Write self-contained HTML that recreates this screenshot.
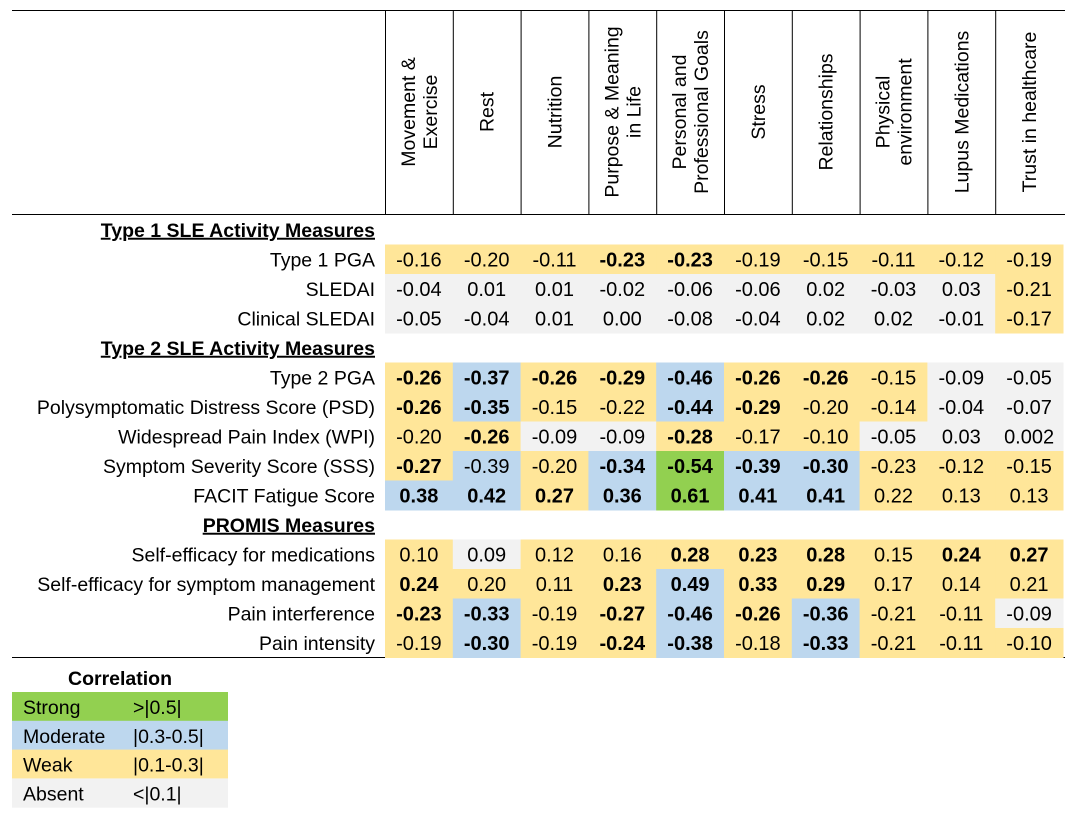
<!DOCTYPE html>
<html><head><meta charset="utf-8"><style>
body{margin:0;background:#fff;width:1078px;height:815px;overflow:hidden}
svg{display:block;font-family:"Liberation Sans",Arial,sans-serif}
</style></head><body>
<svg id="chart" width="1078" height="815"></svg>
<script>
const columns=[["Movement &","Exercise"],["Rest"],["Nutrition"],["Purpose & Meaning","in Life"],["Personal and","Professional Goals"],["Stress"],["Relationships"],["Physical","environment"],["Lupus Medications"],["Trust in healthcare"]];
const rowLabels=["Type 1 SLE Activity Measures","Type 1 PGA","SLEDAI","Clinical SLEDAI","Type 2 SLE Activity Measures","Type 2 PGA","Polysymptomatic Distress Score (PSD)","Widespread Pain Index (WPI)","Symptom Severity Score (SSS)","FACIT Fatigue Score","PROMIS Measures","Self-efficacy for medications","Self-efficacy for symptom management","Pain interference","Pain intensity"];
const values=[null,
["-0.16","-0.20","-0.11","-0.23","-0.23","-0.19","-0.15","-0.11","-0.12","-0.19"],
["-0.04","0.01","0.01","-0.02","-0.06","-0.06","0.02","-0.03","0.03","-0.21"],
["-0.05","-0.04","0.01","0.00","-0.08","-0.04","0.02","0.02","-0.01","-0.17"],
null,
["-0.26","-0.37","-0.26","-0.29","-0.46","-0.26","-0.26","-0.15","-0.09","-0.05"],
["-0.26","-0.35","-0.15","-0.22","-0.44","-0.29","-0.20","-0.14","-0.04","-0.07"],
["-0.20","-0.26","-0.09","-0.09","-0.28","-0.17","-0.10","-0.05","0.03","0.002"],
["-0.27","-0.39","-0.20","-0.34","-0.54","-0.39","-0.30","-0.23","-0.12","-0.15"],
["0.38","0.42","0.27","0.36","0.61","0.41","0.41","0.22","0.13","0.13"],
null,
["0.10","0.09","0.12","0.16","0.28","0.23","0.28","0.15","0.24","0.27"],
["0.24","0.20","0.11","0.23","0.49","0.33","0.29","0.17","0.14","0.21"],
["-0.23","-0.33","-0.19","-0.27","-0.46","-0.26","-0.36","-0.21","-0.11","-0.09"],
["-0.19","-0.30","-0.19","-0.24","-0.38","-0.18","-0.33","-0.21","-0.11","-0.10"]];
const categories=[null,"YYYYYYYYYY","AAAAAAAAAY","AAAAAAAAAY",null,"YBYYBYYYAA","YBYYBYYYAA","YYAAYYYAAA","YBYBGBBYYY","BBYBGBBYYY",null,"YAYYYYYYYY","YYYYBYYYYY","YBYYBYBYYA","YBYYBYBYYY"];
const boldFlags=[null,"0001100000","0000000000","0000000000",null,"1111111000","1100110000","0100100000","1001111000","1111111000",null,"0000111011","1001111000","1101111000","0101101000"];
const legendLabels=["Strong","Moderate","Weak","Absent"];
const legendRanges=[">|0.5|","|0.3-0.5|","|0.1-0.3|","<|0.1|"];
const legendCats=["G","B","Y","A"];

const fills={Y:"#FFE699",B:"#BDD7EE",G:"#92D050",A:"#F2F2F2"};
const NS="http://www.w3.org/2000/svg";
const svg=document.getElementById("chart");
function mk(t,a,p){const e=document.createElementNS(NS,t);for(const k in a)e.setAttribute(k,a[k]);(p||svg).appendChild(e);return e;}
const x0=385,cw=67.8,y0=215,rh=29.5,fs=19.5,nfs=20;
const colX=i=>x0+i*cw;
const rowY=i=>y0+i*rh;
let l=mk("line",{x1:12,y1:10.5,x2:1065,y2:10.5,stroke:"#000","stroke-width":1});


l=mk("line",{x1:12,y1:214.5,x2:1065,y2:214.5,stroke:"#000","stroke-width":1});


l=mk("line",{x1:12,y1:657.5,x2:1065,y2:657.5,stroke:"#000","stroke-width":1});


for(let i=0;i<columns.length;i++){
  const v=mk("line",{x1:colX(i)+0.5,y1:10,x2:colX(i)+0.5,y2:215,stroke:"#000","stroke-width":1});
  
  
  const cx=colX(i)+cw/2,cy=112;
  const t=mk("text",{transform:`translate(${cx},${cy}) rotate(-90)`,"text-anchor":"middle","font-size":fs,fill:"#000"});
  
  
  const lines=columns[i],n=lines.length;
  lines.forEach((s,k)=>{const ts=mk("tspan",{x:0,y:(k-(n-1)/2)*22+7},t);ts.textContent=s;});
}
for(let r=0;r<rowLabels.length;r++){
  const cy=rowY(r)+rh/2;
  const sec=values[r]===null;
  const t=mk("text",{x:375,y:cy+7,"text-anchor":"end","font-size":fs,fill:"#000","font-weight":sec?"bold":"normal","text-decoration":sec?"underline":"none"});
  
  
  t.textContent=rowLabels[r];
  if(sec)continue;
  for(let c=0;c<10;c++){
    const rc=mk("rect",{x:colX(c),y:rowY(r),width:cw+0.5,height:rh+0.5,fill:fills[categories[r][c]]});
    
    
    const tv=mk("text",{x:colX(c)+cw/2,y:cy+7,"text-anchor":"middle","font-size":nfs,fill:"#000","font-weight":boldFlags[r][c]==="1"?"bold":"normal"});
    
    
    tv.textContent=values[r][c];
  }
}
const lt=mk("text",{x:120,y:685,"text-anchor":"middle","font-size":fs,"font-weight":"bold",fill:"#000"});


lt.textContent="Correlation";
for(let i=0;i<4;i++){
  const y=692+i*28.8;
  const g=mk("g",{});
  
  
  mk("rect",{x:12,y:y,width:216,height:29.3,fill:fills[legendCats[i]]},g);
  const a=mk("text",{x:23,y:y+22,"font-size":fs,fill:"#000"},g);a.textContent=legendLabels[i];
  const b=mk("text",{x:133,y:y+22,"font-size":fs,fill:"#000"},g);b.textContent=legendRanges[i];
}
</script>
</body></html>
